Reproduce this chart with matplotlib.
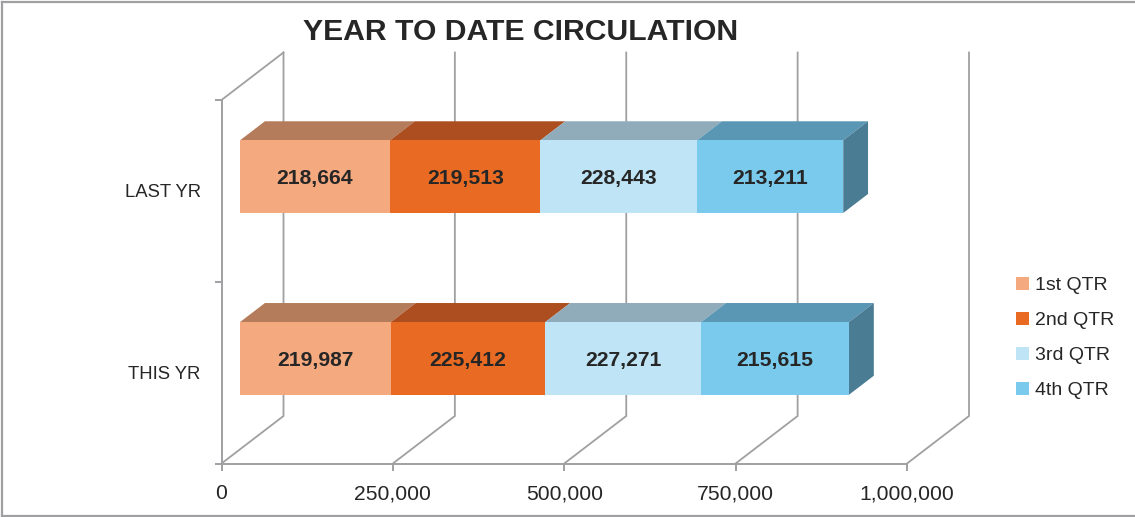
import matplotlib
matplotlib.use('Agg')
import matplotlib.pyplot as plt
from matplotlib.lines import Line2D
from matplotlib.patches import Polygon

# 数据
categories = ['THIS YR', 'LAST YR']
quarters = ['1st QTR', '2nd QTR', '3rd QTR', '4th QTR']
this_yr = [219987, 225412, 227271, 215615]
last_yr = [218664, 219513, 228443, 213211]
x_ticks = [0, 250000, 500000, 750000, 1000000]

front_colors = ['#F4A97F', '#E96B23', '#BFE4F6', '#7ACAED']
top_colors = ['#B57C5B', '#AD4E21', '#90ABBA', '#5A97B4']
side_color = '#4A7C94'
line_color = '#A0A0A2'
text_color = '#262626'

W, H = 1135, 517
plt.rcParams['font.family'] = ['Liberation Sans', 'DejaVu Sans']

fig = plt.figure(figsize=(W / 100, H / 100), dpi=100)
ax = fig.add_axes([0, 0, 1, 1])

# 像素到数据的比例
x_scale = 685.5 / 1000000
y_scale = 181.75
ax.set_xlim(-221.5 / x_scale, (W - 221.5) / x_scale)
ax.set_ylim(-(H - 463.5) / y_scale, 463.5 / y_scale)

# 深度方向的偏移
depth_x = 62 / x_scale
depth_y = 47.5 / y_scale


def proj(v, y, d):
    return v + d * depth_x, y + d * depth_y


# 背景网格线
for v in x_ticks:
    x0, y0 = proj(v, 0, 0)
    x1, y1 = proj(v, 0, 1)
    x2, y2 = proj(v, 2, 1)
    ax.plot([x0, x1, x2], [y0, y1, y2], color=line_color, lw=1.3, zorder=1,
            solid_joinstyle='miter')
x0, y0 = proj(0, 2, 0)
x1, y1 = proj(0, 2, 1)
ax.plot([x0, x1], [y0, y1], color=line_color, lw=1.3, zorder=1)

# 坐标轴
for name in ['top', 'right']:
    ax.spines[name].set_visible(False)
for name in ['left', 'bottom']:
    ax.spines[name].set_position(('data', 0))
    ax.spines[name].set_color(line_color)
    ax.spines[name].set_linewidth(1.4)
ax.spines['bottom'].set_bounds(0, 1000000)
ax.spines['left'].set_bounds(0, 2)

ax.set_xticks(x_ticks)
ax.set_xticklabels([f'{v:,}' for v in x_ticks])
ax.tick_params(axis='x', length=5, width=1.4, color=line_color, pad=10,
               labelsize=15.2, labelcolor=text_color)
ax.set_yticks([0, 1, 2])
ax.set_yticklabels([])
ax.tick_params(axis='y', length=5, width=1.4, color=line_color)
ax.set_yticks([0.5, 1.5], minor=True)
ax.set_yticklabels(categories, minor=True)
ax.tick_params(axis='y', which='minor', length=0, pad=15, labelsize=13.3,
               labelcolor=text_color)

# 立体条形
near, far = 0.3, 0.7
bar_h = far - near
handles = []
for i, values in enumerate([this_yr, last_yr]):
    base = i + 0.5 - bar_h / 2
    left = 0
    for j, val in enumerate(values):
        x_front, y_front = proj(left, base, near)
        bars = ax.barh(y_front, val, height=bar_h, left=x_front, align='edge',
                       color=front_colors[j], zorder=3)
        if i == 0:
            handles.append(bars[0])
        top = [proj(left, base + bar_h, near), proj(left + val, base + bar_h, near),
               proj(left + val, base + bar_h, far), proj(left, base + bar_h, far)]
        ax.add_patch(Polygon(top, closed=True, facecolor=top_colors[j],
                             edgecolor='none', zorder=2))
        ax.text(x_front + val / 2, y_front + bar_h / 2, f'{val:,}', ha='center',
                va='center_baseline', fontsize=15.2, fontweight='bold', color=text_color,
                zorder=4)
        left += val
    side = [proj(left, base, near), proj(left, base + bar_h, near),
            proj(left, base + bar_h, far), proj(left, base, far)]
    ax.add_patch(Polygon(side, closed=True, facecolor=side_color,
                         edgecolor='none', zorder=2))

# 图例
ax.legend(handles, quarters, loc='center left', bbox_to_anchor=(1016 / W, 1 - 338 / H),
          frameon=False, fontsize=14, labelcolor=text_color, handlelength=0.67,
          handleheight=0.67, handletextpad=0.3, labelspacing=0.91,
          borderpad=0, borderaxespad=0)

fig.text(521 / W, 1 - 32 / H, 'YEAR TO DATE CIRCULATION', ha='center', va='center',
         fontsize=21.7, fontweight='bold', color=text_color)

# 外框
for xs, ys in [([2, 2], [2, 515.5]), ([2, W], [2, 2]), ([2, W], [515.5, 515.5])]:
    fig.add_artist(Line2D([x / W for x in xs], [1 - y / H for y in ys],
                          color=line_color, lw=1.6))

fig.savefig('out.png', dpi=100)
